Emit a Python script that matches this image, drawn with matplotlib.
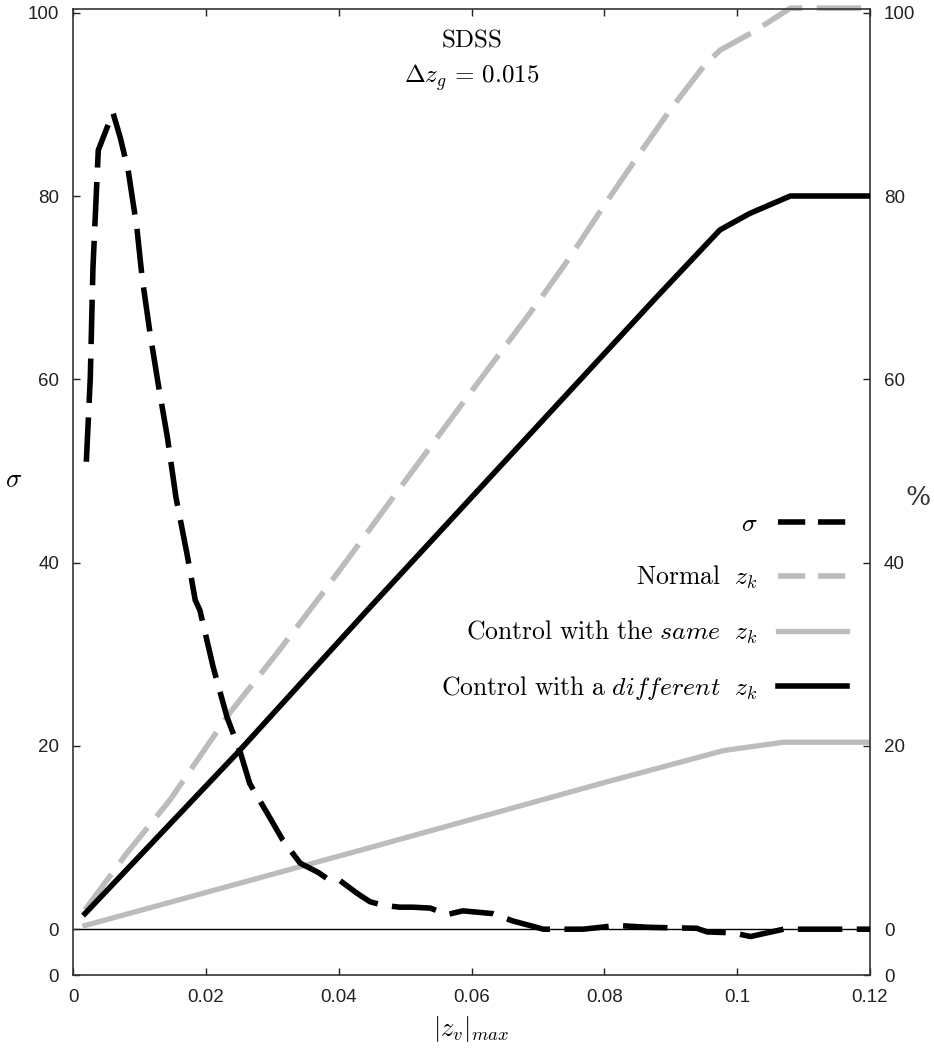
import matplotlib
matplotlib.use("Agg")
import matplotlib.pyplot as plt

plt.rcParams['mathtext.fontset'] = 'cm'
plt.rcParams['font.family'] = ['Liberation Sans', 'DejaVu Sans']

# sigma (left axis) vs |z_v|_max
sigma_x = [0.0020, 0.0026, 0.0030, 0.0038, 0.0060, 0.0071, 0.0083, 0.0096, 0.0104, 0.0116,
           0.0128, 0.0142, 0.0155, 0.0172, 0.0184, 0.0191, 0.0211, 0.0232, 0.0251, 0.0266,
           0.0292, 0.0316, 0.0342, 0.0369, 0.0385, 0.0402, 0.0428, 0.0447, 0.0467, 0.0492,
           0.0512, 0.0538, 0.0563, 0.0587, 0.0602, 0.0632, 0.0662, 0.0693, 0.0708, 0.0768,
           0.0819, 0.0869, 0.0939, 0.0955, 0.0994, 0.1020, 0.1070, 0.1200]
sigma_y = [51.0, 60.2, 72.2, 85.0, 89.1, 86.4, 82.8, 76.6, 71.1, 65.0,
           59.6, 53.7, 47.1, 40.8, 35.9, 34.8, 28.6, 23.1, 19.5, 15.9,
           12.7, 9.7, 7.2, 6.2, 5.4, 5.3, 3.9, 3.0, 2.6, 2.4,
           2.4, 2.3, 1.6, 2.0, 1.9, 1.7, 0.9, 0.3, 0.0, 0.0,
           0.4, 0.2, 0.1, -0.3, -0.4, -0.8, 0.0, 0.0]

# percentages (right axis)
normal_x = [0.0018, 0.0081, 0.0146, 0.0236, 0.0307, 0.0372, 0.0417, 0.0500, 0.0600, 0.0700,
            0.0748, 0.0798, 0.0849, 0.0899, 0.0949, 0.0974, 0.1024, 0.1080, 0.1200]
normal_y = [2.1, 8.3, 14.1, 23.6, 30.1, 36.3, 40.7, 48.9, 58.7, 68.4,
            73.3, 78.8, 84.2, 89.4, 94.1, 95.9, 97.9, 100.5, 100.5]

diff_x = [0.0018, 0.0247, 0.0443, 0.0879, 0.0974, 0.1019, 0.1080, 0.1200]
diff_y = [1.7, 19.2, 34.8, 69.0, 76.3, 78.1, 80.0, 80.0]

same_x = [0.0018, 0.0447, 0.0800, 0.0980, 0.1070, 0.1200]
same_y = [0.4, 8.9, 16.0, 19.5, 20.4, 20.4]

xticks = [0, 0.02, 0.04, 0.06, 0.08, 0.1, 0.12]
xticklabels = ['0', '0.02', '0.04', '0.06', '0.08', '0.1', '0.12']
yticks = [-5, 0, 20, 40, 60, 80, 100]
yticklabels = ['0', '0', '20', '40', '60', '80', '100']

labels = [r'$\sigma$',
          r'$\mathrm{Normal}\ \ z_k$',
          r'$\mathrm{Control\ with\ the}\ \mathit{same}\ \ z_k$',
          r'$\mathrm{Control\ with\ a}\ \mathit{different}\ \ z_k$']

gray = '#bcbcbc'
dash = (0, (8, 2.6))

fig = plt.figure(figsize=(9.34, 10.51), dpi=100)
ax = fig.add_axes([0.0782, 0.0723, 0.8533, 0.9191])

ax.axhline(0, color='black', lw=1.0, zorder=1)
l1, = ax.plot(sigma_x, sigma_y, color='black', lw=4, linestyle=dash, zorder=4)
l2, = ax.plot(normal_x, normal_y, color=gray, lw=4, linestyle=dash, zorder=2, clip_on=False)
l3, = ax.plot(same_x, same_y, color=gray, lw=3.8, zorder=2)
l4, = ax.plot(diff_x, diff_y, color='black', lw=4, zorder=3)

ax.set_xlim(0, 0.12)
ax.set_ylim(-5, 100.4)
ax.set_xticks(xticks)
ax.set_xticklabels(xticklabels)
ax.set_yticks(yticks)
ax.set_yticklabels(yticklabels)
ax.tick_params(direction='in', length=5, width=1, top=True, labelsize=13.5,
               colors='#222222', pad=10)
ax.tick_params(axis='y', left=True, right=True, labelright=True)
for s in ax.spines.values():
    s.set_linewidth(1.2)
    s.set_color('#333333')

ax.set_xlabel(r'$|z_v|_{max}$', fontsize=19, labelpad=6)
ax.set_ylabel(r'$\sigma$', fontsize=19, rotation=0, labelpad=10)
ax.text(1.06, 0.494, '%', transform=ax.transAxes, fontsize=19, ha='center', va='center',
        family='DejaVu Serif', color='#333333')

ax.text(0.5, 0.968, r'$\mathrm{SDSS}$', transform=ax.transAxes, ha='center', va='center',
        fontsize=18)
ax.text(0.5, 0.929, r'$\Delta z_g\,=\,0.015$', transform=ax.transAxes, ha='center',
        va='center', fontsize=18)

leg = ax.legend([l1, l2, l3, l4], labels, loc='center right', bbox_to_anchor=(0.971, 0.381),
                frameon=False, markerfirst=False, fontsize=18.5, handlelength=2.69,
                handletextpad=0.78, labelspacing=1.07, borderpad=0, borderaxespad=0)
# legend dashes are shorter than the ones on the curves
for h in leg.legend_handles[:2]:
    h.set_linestyle((0, (4.9, 2.3)))

fig.savefig('out.png', dpi=100)
